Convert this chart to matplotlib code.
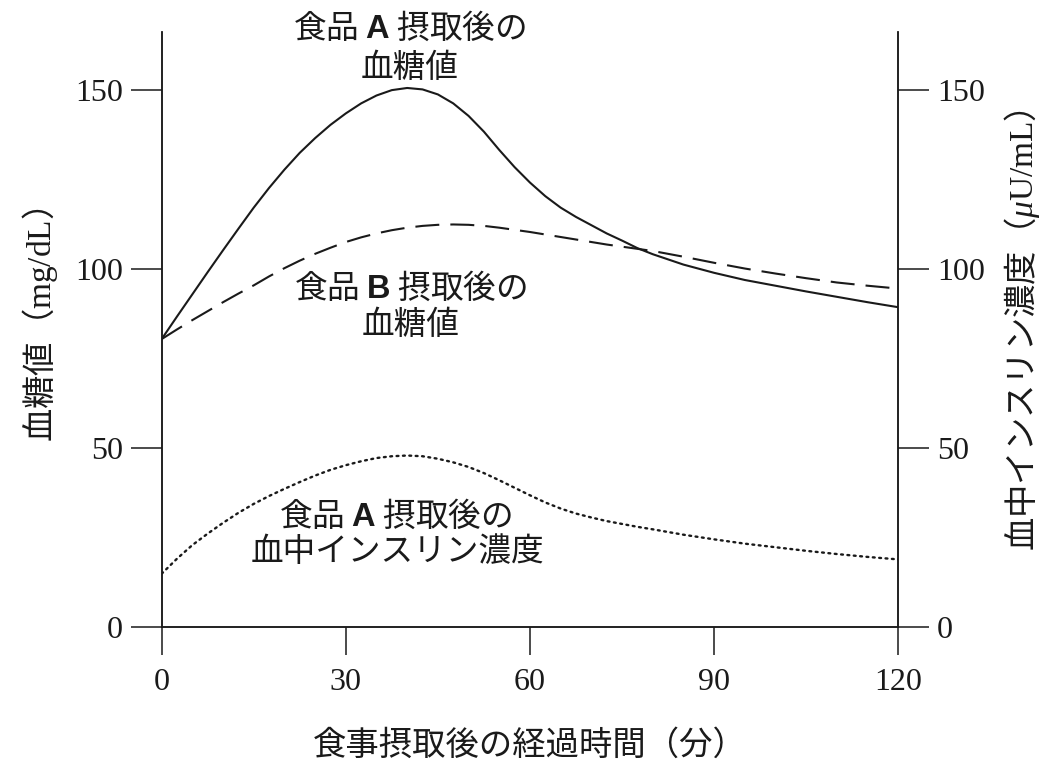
import matplotlib
matplotlib.use("Agg")
import matplotlib.pyplot as plt

# data (minutes after meal)
t = [0, 2.5, 5, 7.5, 10, 12.5, 15, 17.5, 20, 22.5, 25, 27.5, 30, 32.5, 35, 37.5,
     40, 42.5, 45, 47.5, 50, 52.5, 55, 57.5, 60, 62.5, 65, 67.5, 70, 72.5, 75, 77.5,
     80, 85, 90, 95, 100, 105, 110, 115, 120]
sugar_a = [80.5, 86.8, 93, 99.2, 105.3, 111.3, 117.2, 122.7, 127.8, 132.5, 136.6, 140.3,
           143.5, 146.3, 148.5, 150, 150.6, 150.2, 148.8, 146.3, 142.8, 138.4, 133.3, 128.5,
           124.2, 120.4, 117.2, 114.6, 112.3, 110, 108, 105.9,
           104.2, 101.3, 99, 97, 95.4, 93.8, 92.3, 90.8, 89.4]
sugar_b = [80.5, 83.2, 85.8, 88.3, 90.8, 93.2, 95.5, 98, 100.3, 102.4, 104.3, 106,
           107.6, 108.9, 110, 110.9, 111.6, 112.1, 112.4, 112.5, 112.4, 112.1, 111.6, 111,
           110.4, 109.7, 109, 108.3, 107.6, 106.9, 106.3, 105.7,
           105.1, 103.5, 101.8, 100.2, 98.8, 97.5, 96.3, 95.4, 94.6]
insulin_a = [15, 19.2, 23, 26.2, 29.2, 32, 34.5, 36.7, 38.7, 40.6, 42.4, 44,
             45.3, 46.4, 47.3, 47.8, 48, 47.8, 47.1, 46.1, 44.8, 43.1, 41.1, 39,
             36.9, 34.9, 33.2, 31.8, 30.7, 29.7, 28.9, 28.1,
             27.4, 25.9, 24.6, 23.4, 22.4, 21.4, 20.5, 19.7, 19]

xticks = [0, 30, 60, 90, 120]
yticks = [0, 50, 100, 150]

ink = '#1a1a1a'
jp = 'Noto Sans CJK JP'
plt.rcParams['font.family'] = ['Liberation Serif']
plt.rcParams['mathtext.fontset'] = 'custom'
plt.rcParams['mathtext.rm'] = 'Liberation Serif'
plt.rcParams['mathtext.it'] = 'Liberation Serif:italic'
plt.rcParams['mathtext.bf'] = 'Liberation Sans:bold'

fig = plt.figure(figsize=(10.49, 7.72), dpi=100)
ax = fig.add_axes([0.1541, 0.1872, 0.7022, 0.7717])
ax2 = ax.twinx()

ax.plot(t, sugar_a, color=ink, lw=1.5)
ax.plot(t, sugar_b, color=ink, lw=1.5, dashes=(11.5, 5.3))
ax2.plot(t, insulin_a, color=ink, lw=1.7, linestyle=(0, (0.8, 1.9)),
         dash_capstyle='round')

for a in (ax, ax2):
    a.set_xlim(0, 120)
    a.set_ylim(0, 166.3)
    a.spines['top'].set_visible(False)
    for s in a.spines.values():
        s.set_linewidth(1.1)
        s.set_color(ink)
    a.set_yticks(yticks)
    a.tick_params(axis='both', direction='out', length=22, width=1.1,
                  color=ink, labelcolor=ink, labelsize=23, pad=6)
ax.set_xticks(xticks)
ax.tick_params(axis='x', length=20, pad=9)

ttl = dict(fontsize=24, ha='center', va='center', color=ink, family=jp)
fig.text(530 / 1049, 1 - 745 / 772, '食事摂取後の経過時間（分）', **ttl)
fig.text(40 / 1049, 1 - 325 / 772, r'血糖値（$\mathrm{mg/dL}$）', rotation=90, **ttl)
fig.text(1022 / 1049, 1 - 330 / 772, r'血中インスリン濃度（$\mu\mathrm{U/mL}$）',
         rotation=90, **ttl)

lab = dict(fontsize=23.5, ha='center', va='center', color=ink, family=jp)
fig.text(410 / 1049, 1 - 28 / 772, r'食品 $\mathbf{A}$ 摂取後の', **lab)
fig.text(410 / 1049, 1 - 68 / 772, '血糖値', **lab)
fig.text(411 / 1049, 1 - 288 / 772, r'食品 $\mathbf{B}$ 摂取後の', **lab)
fig.text(411 / 1049, 1 - 325 / 772, '血糖値', **lab)
fig.text(396 / 1049, 1 - 516 / 772, r'食品 $\mathbf{A}$ 摂取後の', **lab)
fig.text(397 / 1049, 1 - 552 / 772, '血中インスリン濃度', **lab)

fig.savefig('out.png', dpi=100)
